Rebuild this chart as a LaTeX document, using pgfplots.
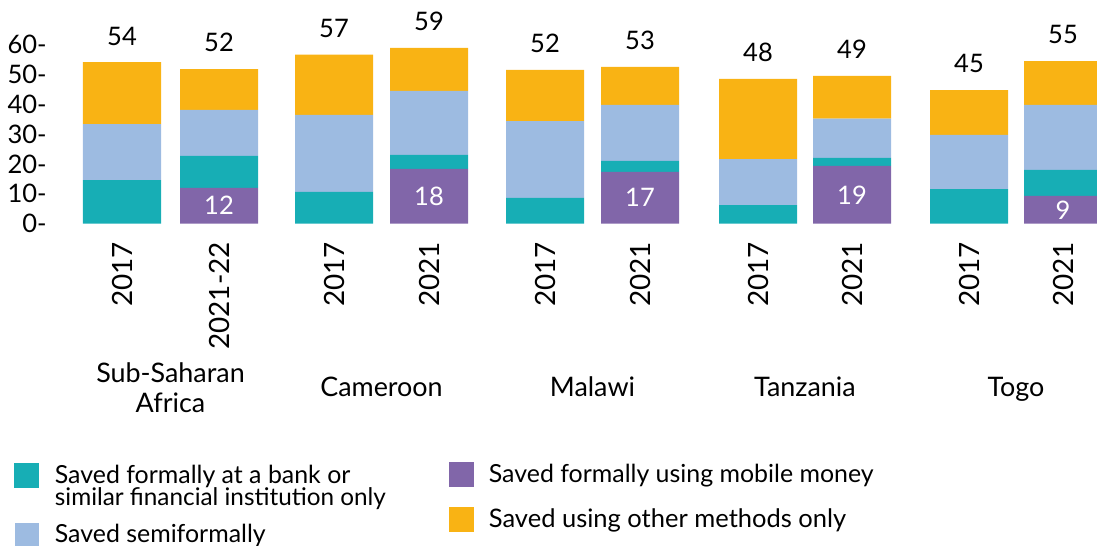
\documentclass[border=0pt]{standalone}
\usepackage{fontspec}
\setmainfont{Lato}
\usepackage{pgfplots}
\pgfplotsset{compat=1.18}
\usepackage{pgfplotstable}
\definecolor{cbank}{RGB}{23,174,181}
\definecolor{csemi}{RGB}{157,187,225}
\definecolor{cmob}{RGB}{129,102,169}
\definecolor{coth}{RGB}{249,179,20}

\pgfplotstableread{
x    mob  bank semi oth  total mlab
122  0    14.6 18.7 20.7 54    {}
219  12   10.7 15.4 13.6 52    12
334  0    10.6 25.8 20.1 57    {}
429  18.3 4.7  21.4 14.4 59    18
545  0    8.6  25.7 17.1 52    {}
640  17.3 3.7  18.7 12.7 53    17
758  0    6.2  15.4 26.8 48    {}
852  19.3 2.7  13.1 14.3 49    19
969  0    11.6 18.1 15.0 45    {}
1063 9.3  8.7  21.7 14.7 55    9
}\datatable

\begin{document}
\begin{tikzpicture}
\begin{axis}[
  scale only axis, width=518.5bp, height=111.85bp,
  xmin=60, xmax=1097, ymin=0, ymax=74.8,
  ybar stacked, bar width=78,
  axis line style={draw=none}, major tick length=0pt,
  xtick={122,219,334,429,545,640,758,852,969,1063},
  xticklabels={2017,2021-22,2017,2021,2017,2021,2017,2021,2017,2021},
  ytick={0,10,20,30,40,50,60},
  yticklabels={0-,10-,20-,30-,40-,50-,60-},
  yticklabel style={font=\fontsize{12.8}{14}\selectfont, inner sep=0pt, anchor=east},
  yticklabel shift=6.5bp,
  xticklabel style={font=\fontsize{14}{16}\selectfont, rotate=90, anchor=east, inner sep=0pt},
  xticklabel shift=9bp,
  clip=false,
]
\addplot[fill=cmob, draw=none, point meta=explicit symbolic,
  nodes near coords={\pgfplotspointmeta},
  nodes near coords style={text=white, font=\fontsize{12.8}{14}\selectfont, anchor=center, inner sep=0pt}]
  table[x=x, y=mob, meta=mlab]{\datatable};
\addplot[fill=cbank, draw=none] table[x=x, y=bank]{\datatable};
\addplot[fill=csemi, draw=none] table[x=x, y=semi]{\datatable};
\addplot[fill=coth, draw=none, point meta=explicit symbolic,
  visualization depends on={\thisrow{oth} \as \othv},
  nodes near coords={\pgfplotspointmeta},
  nodes near coords style={text=black, font=\fontsize{12.8}{14}\selectfont, anchor=base, inner sep=0pt, yshift={0.7475bp*\othv+8.6bp}}]
  table[x=x, y=oth, meta=total]{\datatable};
\end{axis}
\begin{scope}[shift={(-30bp,111.85bp)}, x=0.5bp, y=-0.5bp]
  \begin{scope}[every node/.style={inner sep=0pt, font=\fontsize{13.5}{15}\selectfont}]
    \node[anchor=base] at (170.5,383) {Sub-Saharan};
    \node[anchor=base] at (170.5,413) {Africa};
    \node[anchor=base] at (381.5,397) {Cameroon};
    \node[anchor=base] at (592.5,397) {Malawi};
    \node[anchor=base] at (805,397) {Tanzania};
    \node[anchor=base] at (1016,397) {Togo};
  \end{scope}
  \begin{scope}[every node/.style={inner sep=0pt, anchor=base west, font=\fontsize{12.5}{14}\selectfont}]
    \fill[cbank] (14,463) rectangle (39,488);
    \node at (54.5,484) {Saved formally at a bank or};
    \node at (54.5,506) {\fontsize{12.2}{14}\selectfont similar financial institution only};
    \fill[csemi] (15,523) rectangle (39,548);
    \node at (54.5,543) {Saved semiformally};
    \fill[cmob] (449,462) rectangle (474,487);
    \node at (488.5,483) {Saved formally using mobile money};
    \fill[coth] (449,507) rectangle (474,532);
    \node at (488.5,528) {\fontsize{12.8}{14}\selectfont Saved using other methods only};
  \end{scope}
  \pgfresetboundingbox
  \path (0,0) rectangle (1097,546);
\end{scope}
\end{tikzpicture}
\end{document}
